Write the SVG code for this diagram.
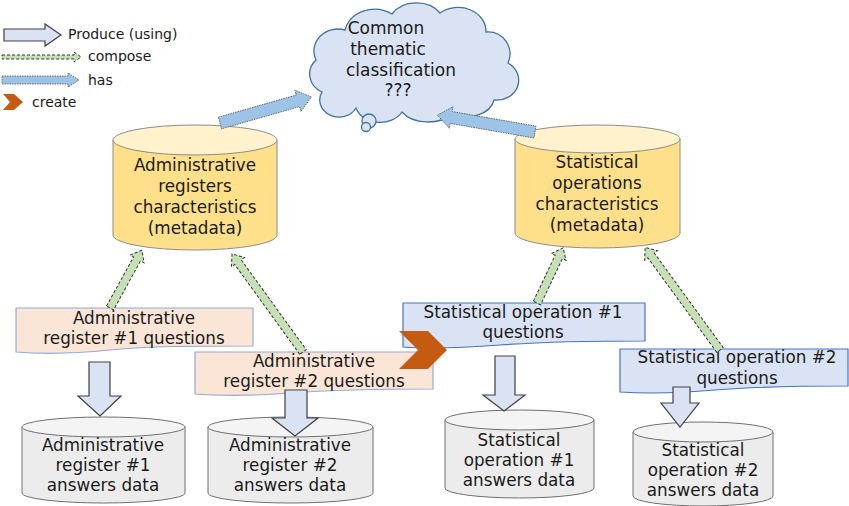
<svg xmlns="http://www.w3.org/2000/svg" width="849" height="506" viewBox="0 0 849 506">
<style>
text{font-family:"DejaVu Sans","Liberation Sans",Arial,sans-serif;fill:#1a1a1a;text-anchor:middle}
.t{font-size:16.8px}
.c{font-size:17px}
.lg{font-size:14px;text-anchor:start}
.meta{fill:#ffe08a;stroke:#8c8c8c;stroke-width:1}
.metatop{fill:#fff2cc;stroke:#8c8c8c;stroke-width:1}
.ans{fill:#ececec;stroke:#707070;stroke-width:1}
.anstop{fill:#f4f4f4;stroke:#707070;stroke-width:1}
.qa{fill:#fbe5d6;stroke:#8faadc;stroke-width:1.2}
.qs{fill:#dae3f3;stroke:#4472c4;stroke-width:1.2}
.cloud{fill:#dae3f3;stroke:#41719c;stroke-width:1.3}
.comp{fill:#c5e0b4;stroke:#333;stroke-width:1;stroke-dasharray:3 2}
.has{fill:#9dc3e6;stroke:#555;stroke-width:0.8;stroke-dasharray:1.5 1}
.prod{fill:#dae3f3;stroke:#404040;stroke-width:1.2}
.create{fill:#c55a11}
</style>

<g id="legend">
  <path class="prod" d="M4,29 H45 V24 L61,35 L45,46 V41 H4 Z"/>
  <text class="lg" x="68" y="39">Produce (using)</text>
  <path class="comp" d="M2,55 H74 V52 L81,57 L74,62 V59 H2 Z"/>
  <text class="lg" x="88" y="61">compose</text>
  <path class="has" d="M2,76 H68 V73 L79,80 L68,87 V84 H2 Z"/>
  <text class="lg" x="88" y="85">has</text>
  <path class="create" d="M3,94 H14 L23,102 L14,110 H3 L10,102 Z"/>
  <text class="lg" x="32" y="107">create</text>
</g>

<g id="cloud">
  <path class="cloud" d="M322,92 A22 20 0 0 1 316,60 A24 22 0 0 1 345,30 A30 25 0 0 1 392,14 A28 22 0 0 1 440,13 A28 24 0 0 1 486,32 A22 22 0 0 1 508,63 A22 20 0 0 1 494,100 A28 20 0 0 1 452,114 A30 20 0 0 1 402,112 A25 20 0 0 1 356,108 A18 16 0 0 1 322,92 Z"/>
  <circle class="cloud" cx="369" cy="121" r="7"/>
  <circle class="cloud" cx="366" cy="127" r="4.5"/>
  <text class="c" x="386" y="34">Common</text>
  <text class="c" x="388" y="55">thematic</text>
  <text class="c" x="401" y="76">classification</text>
  <text class="c" x="398" y="96">???</text>
</g>

<g id="meta-admin">
  <path class="meta" d="M113,140 V235 A82 15 0 0 0 277,235 V140"/>
  <ellipse class="metatop" cx="195" cy="140" rx="82" ry="15"/>
  <text class="t" x="195" y="171">Administrative</text>
  <text class="t" x="195" y="192">registers</text>
  <text class="t" x="195" y="213">characteristics</text>
  <text class="t" x="195" y="234">(metadata)</text>
</g>

<g id="meta-stat">
  <path class="meta" d="M515,139 V233 A82.5 15 0 0 0 680,233 V139"/>
  <ellipse class="metatop" cx="597.5" cy="139" rx="82.5" ry="14"/>
  <text class="t" x="597" y="168">Statistical</text>
  <text class="t" x="597" y="189">operations</text>
  <text class="t" x="597" y="210">characteristics</text>
  <text class="t" x="597" y="231">(metadata)</text>
</g>

<g id="q-admin1">
  <path class="qa" d="M16,308 H253 V346 C190,346 150,346 110,350 C70,354 40,354 16,352 Z"/>
  <text class="t" x="134" y="324">Administrative</text>
  <text class="t" x="134" y="344">register #1 questions</text>
</g>

<g id="q-admin2">
  <path class="qa" d="M195,352 H433 V389 C370,389 330,390 290,393 C250,396 220,396 195,394 Z"/>
  <text class="t" x="314" y="367">Administrative</text>
  <text class="t" x="314" y="387">register #2 questions</text>
</g>

<g id="q-stat1">
  <path class="qs" d="M403,303 H645 V341 C580,341 540,342 500,345 C460,348 430,349 403,347 Z"/>
  <text class="t" x="523" y="318">Statistical operation #1</text>
  <text class="t" x="523" y="338">questions</text>
</g>

<g id="q-stat2">
  <path class="qs" d="M620,349 H848 V386 C790,386 750,387 715,390 C680,393 650,394 620,392 Z"/>
  <text class="t" x="737" y="363">Statistical operation #2</text>
  <text class="t" x="737" y="384">questions</text>
</g>

<g id="ans-admin1">
  <path class="ans" d="M22,427 V493 A81.5 10 0 0 0 185,493 V427"/>
  <ellipse class="anstop" cx="103.5" cy="427" rx="81.5" ry="10"/>
  <text class="t" x="103" y="451">Administrative</text>
  <text class="t" x="103" y="471">register #1</text>
  <text class="t" x="103" y="491">answers data</text>
</g>

<g id="ans-admin2">
  <path class="ans" d="M208,427 V493 A82.5 10 0 0 0 373,493 V427"/>
  <ellipse class="anstop" cx="290.5" cy="427" rx="82.5" ry="10"/>
  <text class="t" x="290" y="451">Administrative</text>
  <text class="t" x="290" y="471">register #2</text>
  <text class="t" x="290" y="491">answers data</text>
</g>

<g id="ans-stat1">
  <path class="ans" d="M445,420 V488 A74.5 10 0 0 0 594,488 V420"/>
  <ellipse class="anstop" cx="519.5" cy="420" rx="74.5" ry="10"/>
  <text class="t" x="519" y="446">Statistical</text>
  <text class="t" x="519" y="466">operation #1</text>
  <text class="t" x="519" y="486">answers data</text>
</g>

<g id="ans-stat2">
  <path class="ans" d="M633,432 V496 A70 10 0 0 0 773,496 V432"/>
  <ellipse class="anstop" cx="703" cy="432" rx="70" ry="10"/>
  <text class="t" x="703" y="456">Statistical</text>
  <text class="t" x="703" y="476">operation #2</text>
  <text class="t" x="703" y="496">answers data</text>
</g>

<g id="connectors">
  <path class="has" transform="translate(220,123) rotate(-15.9)" d="M0,-6 H81 V-11 L95,0 L81,11 V6 H0 Z"/>
  <path class="has" transform="translate(535,132) rotate(-170.2)" d="M0,-6 H85 V-11 L99,0 L85,11 V6 H0 Z"/>
  <path class="comp" transform="translate(110,308) rotate(-61.1)" d="M0,-4 H56 V-8 L66,0 L56,8 V4 H0 Z"/>
  <path class="comp" transform="translate(303,352) rotate(-125.9)" d="M0,-4 H111 V-8 L121,0 L111,8 V4 H0 Z"/>
  <path class="comp" transform="translate(537,303) rotate(-64.7)" d="M0,-4 H51 V-8 L61,0 L51,8 V4 H0 Z"/>
  <path class="comp" transform="translate(720,350) rotate(-126.1)" d="M0,-4 H117 V-8 L127,0 L117,8 V4 H0 Z"/>
  <path class="prod" d="M89,362 H110 V396 H121 L100,416 L78,396 H89 Z"/>
  <path class="prod" d="M285,390 H307 V418 H318 L295,436 L272,418 H285 Z"/>
  <path class="prod" d="M495,356 H515 V395 H525 L504,411 L483,395 H495 Z"/>
  <path class="prod" d="M673,387 H690 V403 H699 L680,427 L661,403 H673 Z"/>
  <path class="create" d="M399,331 H428 L447,350 L428,369 H399 L418,350 Z"/>
</g>
</svg>
